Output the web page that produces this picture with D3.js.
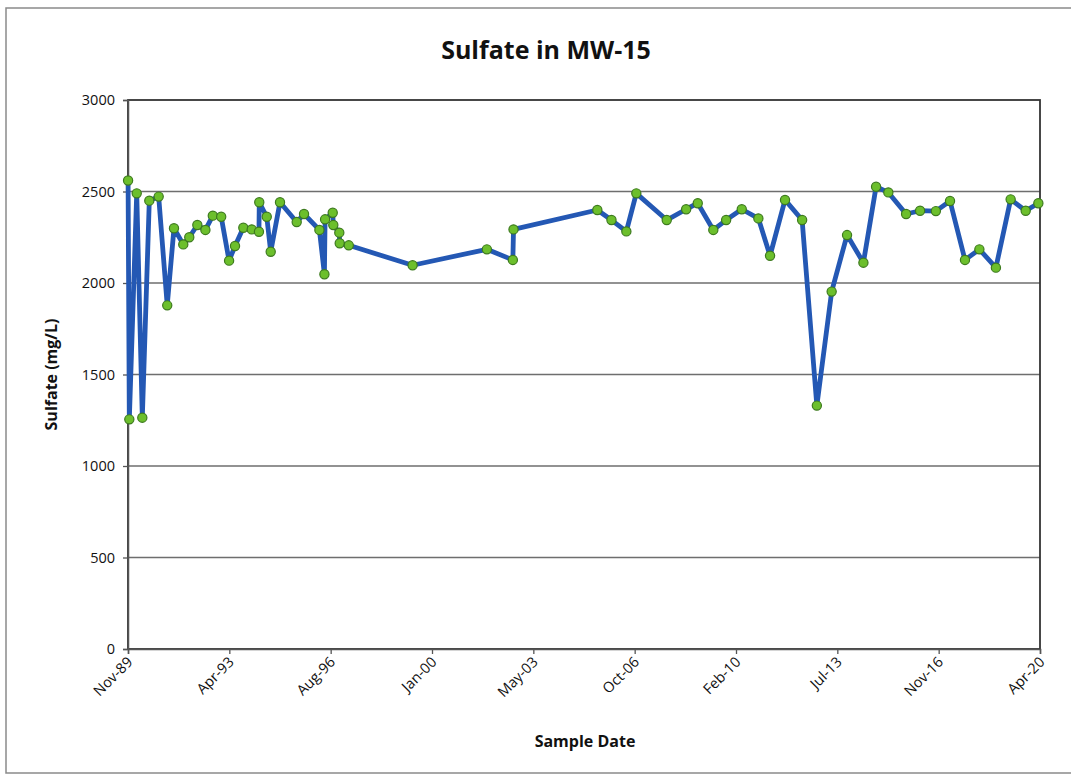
<!DOCTYPE html>
<html>
<head>
<meta charset="utf-8">
<script src="https://cdn.jsdelivr.net/npm/d3@7"></script>
<style>
  html, body { margin: 0; padding: 0; background: #fff; }
  svg { display: block; }
  text { font-family: "Open Sans", "Noto Sans", sans-serif; fill: #111; }
</style>
</head>
<body>
<svg id="chart" width="1071" height="780"></svg>
<script>
// Sample dates and sulfate concentrations (mg/L) for monitoring well MW-15
const sampleDates = [
  "1989-11-29", "1989-12-14", "1990-03-14", "1990-05-21", "1990-08-14", "1990-12-06",
  "1991-03-20", "1991-06-10", "1991-10-01", "1991-12-13", "1992-03-20", "1992-06-26",
  "1992-09-24", "1993-01-04", "1993-04-10", "1993-06-21", "1993-09-30", "1994-01-10",
  "1994-04-08", "1994-04-12", "1994-07-12", "1994-08-29", "1994-12-20", "1995-07-11",
  "1995-10-08", "1996-04-12", "1996-06-12", "1996-06-20", "1996-09-21", "1996-09-28",
  "1996-12-10", "1996-12-15", "1997-04-04", "1999-05-20", "2001-11-08", "2002-09-20",
  "2002-09-28", "2005-07-13", "2006-01-01", "2006-07-01", "2006-10-30", "2007-11-04",
  "2008-06-27", "2008-11-15", "2009-05-23", "2009-10-26", "2010-05-04", "2010-11-22",
  "2011-04-13", "2011-10-12", "2012-05-07", "2012-11-02", "2013-05-01", "2013-11-04",
  "2014-05-22", "2014-10-23", "2015-03-21", "2015-10-23", "2016-04-10", "2016-10-19",
  "2017-04-09", "2017-10-08", "2018-04-01", "2018-10-19", "2019-04-16", "2019-10-16",
  "2020-03-18"
];
const sulfate = [
  2560, 1255, 2490, 1264, 2450, 2472,
  1878, 2299, 2211, 2250, 2317, 2290,
  2368, 2362, 2122, 2202, 2302, 2293,
  2280, 2441, 2362, 2171, 2441, 2333,
  2377, 2290, 2048, 2348, 2384, 2317,
  2275, 2217, 2206, 2097, 2184, 2126,
  2293, 2399, 2344, 2282, 2490, 2344,
  2403, 2436, 2290, 2344, 2403, 2353,
  2149, 2454, 2344, 1330, 1953, 2262,
  2111, 2526, 2495, 2377, 2395, 2393,
  2448, 2126, 2184, 2084, 2457, 2395,
  2436
];

// Date axis ticks (major unit of 1232 days) and value axis ticks
const xTickDates = [
  "1989-11-28", "1993-04-13", "1996-08-27", "2000-01-11", "2003-05-27",
  "2006-10-10", "2010-02-23", "2013-07-09", "2016-11-22", "2020-04-07"
];
const yTicks = [0, 500, 1000, 1500, 2000, 2500, 3000];

const chartTitle = "Sulfate in MW-15";
const xTitle = "Sample Date";
const yTitle = "Sulfate (mg/L)";

const parse = d3.timeParse("%Y-%m-%d");
const data = sampleDates.map((d, i) => ({ date: parse(d), value: sulfate[i] }));
const ticks = xTickDates.map(parse);

const svg = d3.select("#chart");
const plot = { left: 128, right: 1040, top: 100, bottom: 649 };

// Outer chart frame
svg.append("rect")
  .attr("x", 6).attr("y", 8)
  .attr("width", 1075).attr("height", 765)
  .attr("fill", "none").attr("stroke", "#8a8a8a").attr("stroke-width", 1.5);

const x = d3.scaleTime()
  .domain([ticks[0], ticks[ticks.length - 1]])
  .range([plot.left, plot.right]);
const y = d3.scaleLinear()
  .domain([0, 3000])
  .range([plot.bottom, plot.top]);

// Horizontal gridlines
svg.append("g")
  .selectAll("line")
  .data(yTicks.filter(v => v > 0 && v < 3000))
  .join("line")
  .attr("x1", plot.left).attr("x2", plot.right)
  .attr("y1", d => y(d)).attr("y2", d => y(d))
  .attr("stroke", "#6e6e6e").attr("stroke-width", 1.6);

// Plot area border
svg.append("rect")
  .attr("x", plot.left).attr("y", plot.top)
  .attr("width", plot.right - plot.left).attr("height", plot.bottom - plot.top)
  .attr("fill", "none").attr("stroke", "#333").attr("stroke-width", 1.8);

// Y axis
const yAxis = svg.append("g")
  .attr("transform", `translate(${plot.left},0)`)
  .call(d3.axisLeft(y).tickValues(yTicks).tickFormat(d3.format("d")).tickSize(5).tickPadding(8));
yAxis.select(".domain").attr("stroke", "#555").attr("stroke-width", 1.5);
yAxis.selectAll(".tick line").attr("stroke", "#555").attr("stroke-width", 1.3);
yAxis.selectAll(".tick text")
  .attr("font-size", 14.5).attr("font-family", "'Open Sans', sans-serif").attr("fill", "#111");

// X axis
const xAxis = svg.append("g")
  .attr("transform", `translate(0,${plot.bottom})`)
  .call(d3.axisBottom(x).tickValues(ticks).tickFormat(d3.timeFormat("%b-%y")).tickSize(5));
xAxis.select(".domain").attr("stroke", "#555").attr("stroke-width", 1.5);
xAxis.selectAll(".tick line").attr("stroke", "#555").attr("stroke-width", 1.3);
xAxis.selectAll(".tick text")
  .attr("font-size", 14.5).attr("font-family", "'Open Sans', sans-serif").attr("fill", "#111")
  .attr("text-anchor", "end")
  .attr("dy", null).attr("y", 0)
  .attr("transform", "translate(5,14) rotate(-45)");

// Series line
svg.append("path")
  .datum(data)
  .attr("fill", "none")
  .attr("stroke", "#2458b4")
  .attr("stroke-width", 4.8)
  .attr("stroke-linejoin", "round")
  .attr("d", d3.line().x(d => x(d.date)).y(d => y(d.value)));

// Markers
svg.append("g")
  .selectAll("circle")
  .data(data)
  .join("circle")
  .attr("cx", d => x(d.date))
  .attr("cy", d => y(d.value))
  .attr("r", 4.6)
  .attr("fill", "#6cbf2c")
  .attr("stroke", "#3d7a1e")
  .attr("stroke-width", 1.2);

// Titles
svg.append("text")
  .attr("x", 546).attr("y", 59)
  .attr("text-anchor", "middle")
  .attr("font-size", 25).attr("font-weight", "bold")
  .text(chartTitle);

svg.append("text")
  .attr("x", 585).attr("y", 747)
  .attr("text-anchor", "middle")
  .attr("font-size", 16).attr("font-weight", "bold")
  .text(xTitle);

svg.append("text")
  .attr("transform", `translate(57,${(plot.top + plot.bottom) / 2}) rotate(-90)`)
  .attr("text-anchor", "middle")
  .attr("font-size", 16).attr("font-weight", "bold")
  .text(yTitle);
</script>
</body>
</html>
